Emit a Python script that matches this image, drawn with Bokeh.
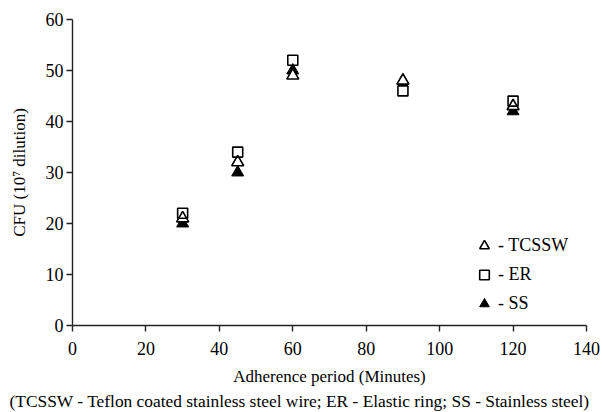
from bokeh.plotting import figure
from bokeh.models import Range1d, SingleIntervalTicker, Legend, LegendItem, Title
from bokeh.embed import file_html
from bokeh.resources import INLINE

# data
minutes = [30, 45, 60, 90, 120]
tcssw = [21, 32, 49, 48, 43]
er = [22, 34, 52, 46, 44]
ss = [20, 30, 50, 48, 42]

x_label = "Adherence period (Minutes)"
y_label = "CFU (10\u2077 dilution)"
caption = "(TCSSW - Teflon coated stainless steel wire; ER - Elastic ring; SS - Stainless steel)"

FONT = "Liberation Serif"

p = figure(width=602, height=412, output_backend="svg", toolbar_location=None,
           x_range=Range1d(0, 140), y_range=Range1d(0, 60),
           min_border_left=72, min_border_right=16, min_border_top=19, min_border_bottom=87,
           frame_width=514, frame_height=306)
p.outline_line_color = None
p.xgrid.visible = False
p.ygrid.visible = False
p.background_fill_color = "white"
p.border_fill_color = "white"

r_ss = p.scatter(minutes, ss, marker="triangle", size=12, fill_color="black", line_color="black", line_width=1)
r_tc = p.scatter(minutes, tcssw, marker="triangle", size=12, fill_color="white", line_color="black", line_width=1.6)
r_er = p.scatter(minutes, er, marker="square", size=10, fill_color=None, line_color="black", line_width=1.6)

for ax in (p.xaxis[0], p.yaxis[0]):
    ax.axis_line_color = "#222222"
    ax.axis_line_width = 1.4
    ax.major_tick_line_color = "#222222"
    ax.major_tick_line_width = 1.4
    ax.major_tick_out = 6
    ax.major_tick_in = 0
    ax.minor_tick_line_color = None
    ax.major_label_text_font = FONT
    ax.major_label_text_font_size = "18px"
    ax.major_label_text_color = "black"
    ax.axis_label_text_font = FONT
    ax.axis_label_text_font_size = "17px"
    ax.axis_label_text_font_style = "normal"
    ax.axis_label_text_color = "black"

p.xaxis.ticker = SingleIntervalTicker(interval=20)
p.yaxis.ticker = SingleIntervalTicker(interval=10)
p.xaxis.axis_label = x_label
p.yaxis.axis_label = y_label
p.xaxis.major_label_standoff = 10
p.xaxis.axis_label_standoff = 9
p.yaxis.major_label_standoff = 3
p.yaxis.axis_label_standoff = 14

legend = Legend(items=[
    LegendItem(label="- TCSSW", renderers=[r_tc]),
    LegendItem(label="- ER", renderers=[r_er]),
    LegendItem(label="- SS", renderers=[r_ss]),
], location=(400, 7))
legend.background_fill_alpha = 0
legend.border_line_color = None
legend.label_text_font = FONT
legend.label_text_font_size = "18px"
legend.label_text_color = "black"
legend.glyph_width = 24
legend.glyph_height = 29
legend.spacing = 0
legend.padding = 0
legend.margin = 0
legend.label_standoff = 2
p.add_layout(legend)

t = Title(text=caption, align="left", text_font=FONT, text_font_size="17.4px",
          text_font_style="normal", text_color="black", standoff=0, offset=-63)
p.add_layout(t, "below")

open("out.html", "w").write(file_html(p, INLINE))
